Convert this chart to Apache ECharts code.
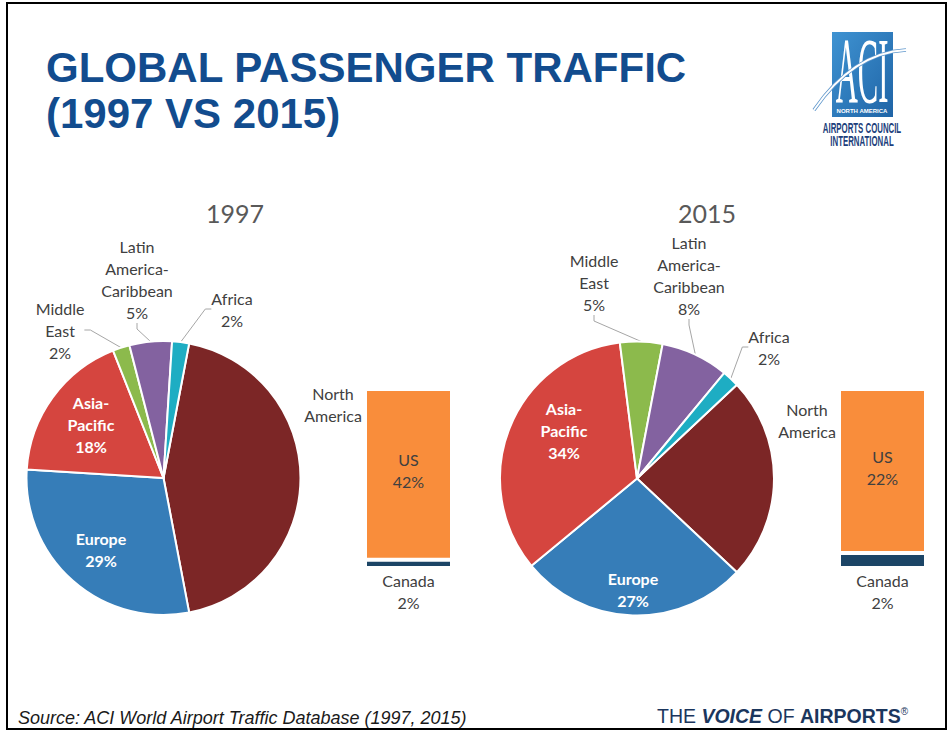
<!DOCTYPE html>
<html>
<head>
<meta charset="utf-8">
<title>Global Passenger Traffic (1997 vs 2015)</title>
<script src="https://cdn.jsdelivr.net/npm/echarts@6/dist/echarts.min.js"></script>
<style>
  html, body { margin: 0; padding: 0; background: #fff; }
  #chart { width: 948px; height: 731px; }
</style>
</head>
<body>
<div id="chart"></div>
<script>
// regions, clockwise starting with the slice that is split into the bar
const regions = ['North America', 'Europe', 'Asia-Pacific', 'Middle East', 'Latin America-Caribbean', 'Africa'];
const share1997 = [44, 29, 18, 2, 5, 2];
const share2015 = [24, 27, 34, 5, 8, 2];

// North America broken down (bottom to top of the bar)
const naParts = ['Canada', 'US'];
const na1997 = [2, 42];
const na2015 = [2, 22];

const years = ['1997', '2015'];

const regionColors = ['#7C2626', '#367DB8', '#D5453F', '#8CBA4C', '#8362A0', '#1EADC3'];
const partColors = ['#1C4566', '#F98D3B'];
const textColor = '#404040';
const font = 'Lato, "Open Sans", sans-serif';
const insideLabels = ['Europe', 'Asia-Pacific'];

// centre of each label block, per pie (same order as regions)
const labelSpots = {
  '1997': [[333, 404], [101, 549], [91, 424], [60, 330], [137, 279], [232, 309]],
  '2015': [[807, 420], [633, 589], [564, 430], [594, 282], [689, 275], [769, 347]]
};

const chart = echarts.init(document.getElementById('chart'), null, { renderer: 'svg' });

function pieSeries(year, shares, center) {
  return {
    type: 'pie',
    name: year,
    center: center,
    radius: 137,
    // split slice is centred on the right (3 o'clock), like an Excel bar-of-pie
    startAngle: shares[0] * 1.8,
    clockwise: true,
    avoidLabelOverlap: false,
    animation: false,
    silent: true,
    itemStyle: { borderColor: '#fff', borderWidth: 2 },
    label: {
      fontFamily: font,
      fontSize: 16,
      lineHeight: 22,
      color: textColor,
      formatter: p => p.dataIndex === 0
        ? 'North\nAmerica'
        : p.name.replace(/ /g, '\n').replace(/-/g, '-\n') + '\n' + p.value + '%'
    },
    labelLine: { show: true, length: 8, length2: 6, smooth: false, lineStyle: { color: '#A6A6A6', width: 1 } },
    labelLayout: p => {
      const s = labelSpots[year][p.dataIndex];
      return { x: s[0], y: s[1], align: 'center', verticalAlign: 'middle' };
    },
    data: regions.map((name, i) => {
      const item = { name: name, value: shares[i], itemStyle: { color: regionColors[i] } };
      if (i === 0) item.labelLine = { show: false };
      if (insideLabels.includes(name)) {
        item.label = { position: 'inside', color: '#fff', fontWeight: 'bold' };
      }
      return item;
    })
  };
}

function barSeries(idx, values) {
  return naParts.map((name, i) => ({
    type: 'bar',
    name: name,
    xAxisIndex: idx,
    yAxisIndex: idx,
    stack: 'na' + idx,
    barWidth: '100%',
    animation: false,
    silent: true,
    data: [values[i]],
    itemStyle: { color: partColors[i], borderColor: '#fff', borderWidth: 2 },
    label: {
      show: true,
      position: i === 0 ? 'bottom' : 'inside',
      distance: 1,
      offset: i === 0 ? [0, 0] : [0, -4],
      formatter: '{a}\n{c}%',
      fontFamily: font,
      fontSize: 16,
      lineHeight: 22,
      color: textColor
    }
  }));
}

const sum = a => a.reduce((s, v) => s + v, 0);

const option = {
  backgroundColor: '#fff',
  animation: false,
  grid: [
    { left: 365, top: 389, width: 87, height: 179 },
    { left: 839, top: 389, width: 87, height: 179 }
  ],
  xAxis: [0, 1].map(i => ({ gridIndex: i, type: 'category', data: ['North America'], show: false })),
  yAxis: [na1997, na2015].map((v, i) => ({ gridIndex: i, type: 'value', min: 0, max: sum(v), show: false })),
  series: [
    pieSeries(years[0], share1997, [163.5, 478]),
    pieSeries(years[1], share2015, [637, 478.5]),
    ...barSeries(0, na1997),
    ...barSeries(1, na2015)
  ],
  graphic: [
    {
      type: 'text', x: 46, y: 67,
      style: { text: 'GLOBAL PASSENGER TRAFFIC', fill: '#124C8E', font: 'bold 42px "Liberation Sans", Arial, sans-serif', textAlign: 'left', textVerticalAlign: 'middle', align: 'left', verticalAlign: 'middle' }
    },
    {
      type: 'text', x: 46, y: 113,
      style: { text: '(1997 VS 2015)', fill: '#124C8E', font: 'bold 42px "Liberation Sans", Arial, sans-serif', textAlign: 'left', textVerticalAlign: 'middle', align: 'left', verticalAlign: 'middle' }
    },
    {
      type: 'text', x: 235, y: 213,
      style: { text: years[0], fill: '#595959', font: '25px Lato, sans-serif', textAlign: 'center', textVerticalAlign: 'middle', align: 'center', verticalAlign: 'middle' }
    },
    {
      type: 'text', x: 707, y: 213,
      style: { text: years[1], fill: '#595959', font: '25px Lato, sans-serif', textAlign: 'center', textVerticalAlign: 'middle', align: 'center', verticalAlign: 'middle' }
    },
    {
      type: 'text', x: 18, y: 718,
      style: { text: 'Source: ACI World Airport Traffic Database (1997, 2015)', fill: '#1A1A1A', font: 'italic 18px "Liberation Sans", Arial, sans-serif', textAlign: 'left', textVerticalAlign: 'middle', align: 'left', verticalAlign: 'middle' }
    },
    {
      type: 'text', x: 657, y: 716,
      style: {
        text: '{t|THE }{v|VOICE}{t| OF }{a|AIRPORTS}{r|®}',
        textAlign: 'left', textVerticalAlign: 'middle', align: 'left', verticalAlign: 'middle',
        rich: {
          t: { fill: '#1B365D', color: '#1B365D', font: '19.5px "Liberation Sans", Arial, sans-serif' },
          v: { fill: '#1B365D', color: '#1B365D', font: 'italic bold 19.5px "Liberation Sans", Arial, sans-serif' },
          a: { fill: '#1B365D', color: '#1B365D', font: 'bold 19.5px "Liberation Sans", Arial, sans-serif' },
          r: { fill: '#1B365D', color: '#1B365D', font: '10px "Liberation Sans", Arial, sans-serif', verticalAlign: 'top' }
        }
      }
    },
    // ACI logo
    {
      type: 'rect',
      shape: { x: 832, y: 32, width: 61, height: 85 },
      style: {
        fill: new echarts.graphic.LinearGradient(0, 0, 1, 1, [
          { offset: 0, color: '#3F93D2' },
          { offset: 1, color: '#1F64A6' }
        ])
      }
    },
    {
      type: 'text', x: 862, y: 70, scaleX: 0.85, scaleY: 2.6,
      style: { text: 'ACI', fill: '#fff', font: '36px "Liberation Serif", serif', textAlign: 'center', textVerticalAlign: 'middle', align: 'center', verticalAlign: 'middle' }
    },
    {
      type: 'bezierCurve',
      shape: { x1: 814, y1: 110, cpx1: 840, cpy1: 72, x2: 906, y2: 50, cpx2: 870, cpy2: 52 },
      style: { stroke: '#5F97CC', lineWidth: 3.5, fill: null }
    },
    {
      type: 'bezierCurve',
      shape: { x1: 814, y1: 110, cpx1: 840, cpy1: 72, x2: 906, y2: 50, cpx2: 870, cpy2: 52 },
      style: { stroke: '#fff', lineWidth: 1.8, fill: null }
    },
    {
      type: 'text', x: 862, y: 111,
      style: { text: 'NORTH AMERICA', fill: '#fff', font: 'bold 6px "Liberation Sans", Arial, sans-serif', textAlign: 'center', textVerticalAlign: 'middle', align: 'center', verticalAlign: 'middle' }
    },
    {
      type: 'text', x: 862, y: 128, scaleX: 0.56,
      style: { text: 'AIRPORTS COUNCIL', fill: '#1D3F7C', font: 'bold 14px "Liberation Sans", Arial, sans-serif', textAlign: 'center', textVerticalAlign: 'middle', align: 'center', verticalAlign: 'middle' }
    },
    {
      type: 'text', x: 862, y: 141, scaleX: 0.56,
      style: { text: 'INTERNATIONAL', fill: '#1D3F7C', font: 'bold 14px "Liberation Sans", Arial, sans-serif', textAlign: 'center', textVerticalAlign: 'middle', align: 'center', verticalAlign: 'middle' }
    },
    // slide frame
    {
      type: 'rect', z: 100,
      shape: { x: 7, y: 3, width: 939, height: 726 },
      style: { fill: null, stroke: '#000', lineWidth: 2 }
    }
  ]
};

chart.setOption(option);
</script>
</body>
</html>
